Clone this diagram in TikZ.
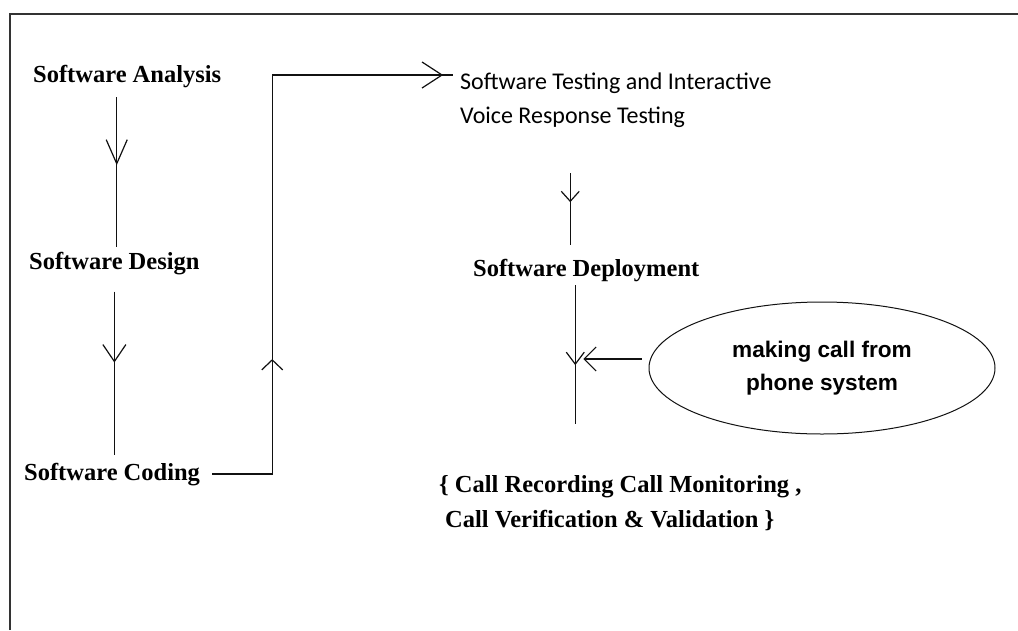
\documentclass[tikz,border=0pt]{standalone}
\usepackage{fontspec}
\setmainfont{Liberation Serif}
\newfontfamily\calibrifont{Carlito}
\newfontfamily\arialfont{Liberation Sans}
\usepackage{tikz}
\usepackage{xcolor}
\usetikzlibrary{arrows.meta, positioning, shapes.geometric, decorations.markings}
\definecolor{FrameInk}{HTML}{333333}
\definecolor{FlowInk}{HTML}{111111}

\begin{document}
\begin{tikzpicture}[
    x=1pt, y=-1pt,
    stage/.style={
      inner sep=0pt,
      anchor=base west,
      font=\fontsize{24.5}{28}\selectfont\bfseries,
    },
    remark/.style={
      inner sep=0pt,
      anchor=north west,
      align=left,
      font=\calibrifont\fontsize{24}{34}\selectfont,
    },
    outcome/.style={
      inner sep=0pt,
      anchor=north west,
      align=left,
      font=\fontsize{24.5}{35}\selectfont\bfseries,
    },
    caller/.style={
      ellipse,
      draw=FlowInk,
      line width=1pt,
      minimum width=346pt,
      minimum height=132pt,
      align=center,
      font=\arialfont\bfseries\fontsize{22.6}{33}\selectfont,
    },
    link/.style={
      draw=FlowInk,
      line width=1.2pt,
    },
    midtip/.style 2 args={
      postaction={decorate, decoration={markings, mark=at position #1 with {\arrow{#2}}}},
    },
  ]
    \useasboundingbox (0,0) rectangle (1018,630);
    \draw[FrameInk, line width=1.6pt] (10,630) -- (10,14) -- (1018,14);

    \node[stage] (ana) at (33,82) {Software Analysis};
    \node[stage] (des) at (29,269) {Software Design};
    \node[stage] (cod) at (24,480) {Software Coding};
    \node[remark] (tst) at (460,73) {Software Testing and Interactive\\Voice Response Testing};
    \node[stage] (dep) at (473,276) {Software Deployment};
    \node[outcome] (rec) at (439,475) {\{ Call Recording Call Monitoring ,\\\hspace*{6pt}Call Verification \& Validation \}};
    \node[caller] (eli) at (822,368) {making call from\\phone system};
    \coordinate (drop) at ([xshift=-11pt]dep.south);

    \draw[link, midtip={68pt}{Straight Barb[length=24pt,width=21pt]}]
      ([xshift=-10.5pt,yshift=-9.7pt]ana.south) -- ([xshift=-10.5pt,yshift=5pt]ana.south |- des.north);
    \draw[link, midtip={71pt}{Straight Barb[length=17pt,width=23pt]}]
      ([yshift=-17pt]des.south) -- ([yshift=8pt]des.south |- cod.north);
    \draw[link, midtip={175pt}{Straight Barb[length=10pt,width=21pt]}, midtip={630pt}{Straight Barb[length=20pt,width=26pt]}]
      ([xshift=12pt]cod.east) -- ([xshift=72pt]cod.east) |- ([xshift=-7pt,yshift=-2pt]tst.north west);
    \draw[link, midtip={29pt}{Straight Barb[length=10pt,width=18pt]}]
      ([xshift=-16pt,yshift=-45pt]dep.north |- tst.south) -- ([xshift=-16pt,yshift=14pt]dep.north);
    \draw[link, midtip={80pt}{Straight Barb[length=12pt,width=18pt]}]
      ([yshift=-3.7pt]drop) -- ([yshift=51pt]drop |- rec.north);
    \draw[link, -{Straight Barb[length=12pt,width=24pt]}]
      ([xshift=-7pt,yshift=9pt]eli.west) -- ([xshift=8pt,yshift=9pt]eli.west -| drop);
  \end{tikzpicture}
\end{document}
